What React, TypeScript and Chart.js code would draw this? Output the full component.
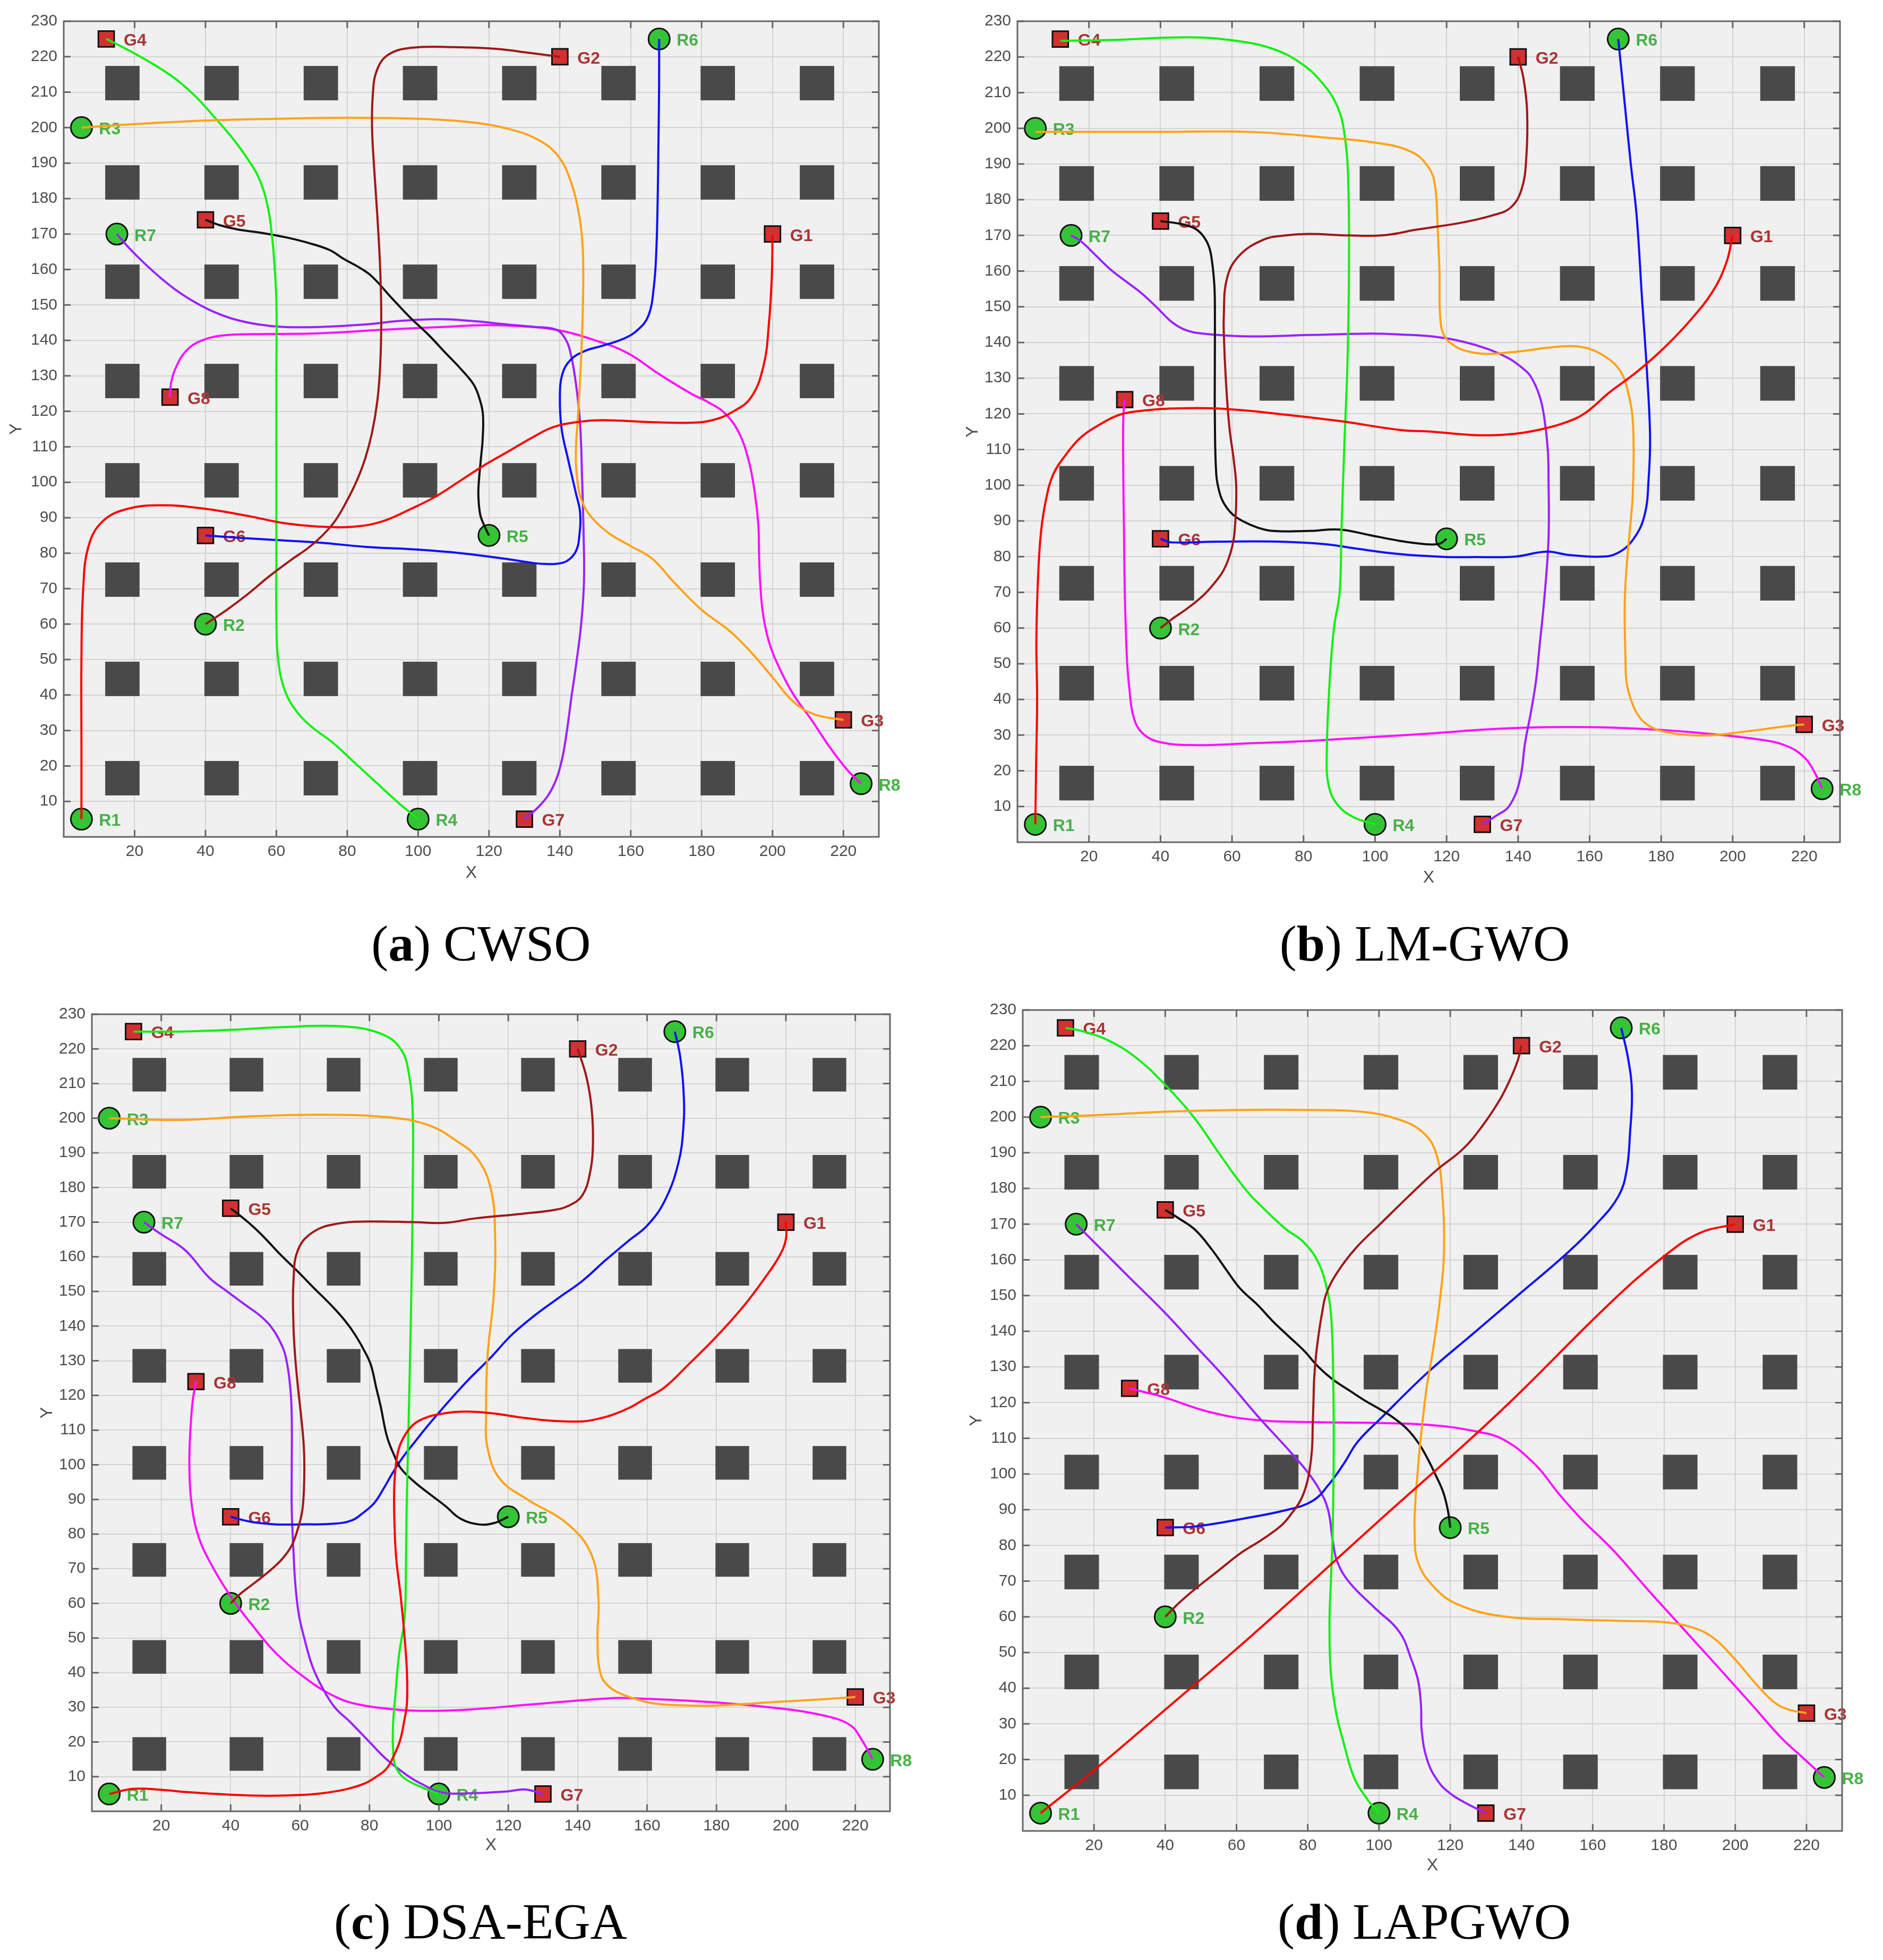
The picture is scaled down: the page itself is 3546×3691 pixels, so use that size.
import React, { useEffect, useRef } from 'react';
import { Chart, registerables } from 'chart.js';

Chart.register(...registerables);

// ---------------- data ----------------
const AXIS_MIN = 0;
const AXIS_MAX = 230;
const X_TICKS = [20, 40, 60, 80, 100, 120, 140, 160, 180, 200, 220];
const Y_TICKS = [10, 20, 30, 40, 50, 60, 70, 80, 90, 100, 110, 120, 130, 140, 150, 160, 170, 180, 190, 200, 210, 220, 230];

const OBSTACLE_STARTS = [11.7, 39.7, 67.7, 95.7, 123.7, 151.7, 179.7, 207.7];
const OBSTACLE_SIZE = 9.7;

const START_LABELS = ['R1', 'R2', 'R3', 'R4', 'R5', 'R6', 'R7', 'R8'];
const GOAL_LABELS = ['G1', 'G2', 'G3', 'G4', 'G5', 'G6', 'G7', 'G8'];
const STARTS: number[][] = [[5, 5], [40, 60], [5, 200], [100, 5], [120, 85], [168, 225], [15, 170], [225, 15]];
const GOALS: number[][] = [[200, 170], [140, 220], [220, 33], [12, 225], [40, 174], [40, 85], [130, 5], [30, 124]];

const PATH_COLORS = ['#ff0000', '#a01818', '#ffa31a', '#12f012', '#111111', '#1010ff', '#9a22ff', '#ff10ff'];

const PANEL_LETTERS = ['a', 'b', 'c', 'd'];
const PANEL_NAMES = ['CWSO', 'LM-GWO', 'DSA-EGA', 'LAPGWO'];

const CWSO_PATHS: number[][][] = [
  [[5,5],[5,25],[5,50],[5.5,70],[7,82],[11,89],[18,92.5],[28,93.5],[40,92.5],[52,90.5],[62,88.5],[72,87.5],[82,87.5],[90,89],[98,92.5],[105,96],[112,100.5],[119,105],[126,109],[132,112.5],[138,115.5],[145,117],[152,117.5],[165,117],[177,116.8],[183,117.5],[189,120],[194,124],[197.5,133],[199,145],[199.8,158],[200,170]],
  [[40,60],[46,64],[52,68.5],[58,73.5],[64,78],[69,81.5],[73,85],[76.5,89],[79.5,94],[82.5,100],[85,106.5],[87,114],[88.5,123],[89.3,133],[89.6,146],[89.3,160],[88.5,175],[87.5,190],[87,200],[87.2,209],[88.3,216],[91.5,220.5],[98,222.5],[110,222.7],[122,222.2],[132,221],[140,220]],
  [[5,200],[20,201],[40,202],[60,202.5],[80,202.8],[100,202.5],[115,201.5],[126,199.5],[134,196.5],[139.5,192],[143,185],[145.5,175],[146.5,165],[146.5,150],[146,135],[145.2,120],[144.5,108],[145,100],[146.5,94],[149.5,89.5],[154,85.5],[160,82],[166,78.5],[172,72],[180,64],[188,58],[194,52],[200,45],[206,38],[212,34.5],[220,33]],
  [[100,5],[94,10],[88,15.5],[82,21],[76,26.5],[70,31],[66,35],[62.5,41],[60.5,50],[60,62],[60,80],[60,100],[60,130],[60,151],[59.2,165],[58.7,170],[57.9,176],[56.5,182],[54.5,187],[52,191],[49.2,195],[46,199],[42.5,203],[37.5,208.5],[32.5,213],[27.5,216.5],[22.5,219.5],[17,222.5],[12,225]],
  [[120,85],[118.8,87.5],[117.5,91],[117,96.5],[117.2,101],[117.7,106.5],[118.2,112],[118.3,119],[117.5,123],[115.7,127.5],[112,132],[107.7,136.5],[103,141.5],[97.7,146.5],[92.5,152],[87,158],[83.5,160.5],[79,163],[75,165.5],[69,167.5],[63,169],[56,170.3],[49,171.3],[44,172.5],[40,174]],
  [[168,225],[168,212],[167.8,195],[167.6,180],[167.2,165],[166.5,155],[165,147],[162,143],[158,140.5],[152,138.5],[147,137],[143,134.5],[140.7,130.5],[140,124],[140.5,115],[142.3,106.5],[144.5,97],[145.7,91.5],[145.5,85],[144.5,80.5],[142,77.8],[139,77],[135,77],[132,77.3],[124,78.5],[112,80],[100,81],[85,81.8],[72,83],[60,83.7],[50,84.3],[40,85]],
  [[15,170],[18.5,166],[22.5,162],[27.5,157.5],[32.5,153.6],[37.5,150.5],[42.5,148],[48,146],[55,144.5],[62,143.8],[72,143.8],[85,144.5],[95,145.5],[105.7,146],[115,145.5],[125,144.5],[133,143.8],[139,143],[141.5,140.5],[143,136.5],[144.5,128],[145.7,116.5],[146.3,100],[146.7,85],[146.8,72],[146,60],[144.5,48],[143.2,39],[142,30],[140.4,21],[138,14],[134.5,9],[130,5]],
  [[225,15],[221,19],[216,25.5],[211,33],[206,40],[202,47.5],[199,55],[197.3,63],[196.5,72],[196.2,80],[196,88],[195,97],[193.3,106],[190.5,114],[186.5,119.5],[182,122.5],[177,125],[168,130.5],[159,136.5],[150,140],[139,143],[129,144],[119,144.3],[105,143.7],[90,143],[72,142],[58,141.8],[46,141.5],[39,140],[34.5,137],[31.5,132],[30.3,128],[30,124]],
];

const LMGWO_PATHS: number[][][] = [
  [[5,5],[5.2,20],[5.5,40],[5.3,57],[5.8,75],[6.6,87],[8,96],[10,103],[13.5,108.5],[17.7,113.4],[23,117],[28.7,119.8],[36,121],[43,121.5],[56,121.5],[73,120],[90,118],[107,115.5],[116,115],[124,114.3],[131,114],[139,114.4],[146.6,115.7],[153,117.5],[158.7,120.2],[165.5,126],[173,131.6],[180.7,138.4],[188.3,146.4],[194.4,154.3],[198.2,162.3],[200,170]],
  [[40,60],[43.2,62.5],[47.5,65.5],[51.8,69],[55,72.5],[57.7,76.3],[59.7,81.5],[60.7,86.8],[61.2,99],[60.5,107],[59.4,115],[58.7,123],[58.2,131],[57.8,140],[57.7,147.4],[58.6,158],[62,164.3],[68.8,168.8],[75,170],[81.6,170.4],[92.7,170],[102.9,170.1],[111.5,171.6],[124.3,173.6],[132.8,175.6],[137.9,177.8],[141,183],[142.3,192],[142.5,205],[141.5,214],[140,220]],
  [[5,199],[20,199],[40,199],[65,199],[85,197.5],[100,196],[110,193.5],[115,189],[116.8,183.7],[117.5,172],[118,160],[118.2,147.4],[119.3,142],[122.3,139],[126,137.5],[131,136.8],[138.6,137.3],[142.8,137.8],[148,138.5],[154.2,139],[159,138.5],[163.3,136.7],[167,134],[169.4,130.5],[171,125],[172,119],[172.3,108],[172,96.4],[171.3,88],[170.5,79.3],[169.9,70],[169.8,62.3],[170,52],[170.3,45],[171.5,40],[173.3,36],[176,33],[180.7,31],[192,29.9],[203.5,31],[215,32.5],[220,33]],
  [[100,5],[94,7],[89.5,10.5],[87,16],[86.5,25],[87.3,45],[88.5,60],[90.1,70],[90.6,87],[91.4,111],[92.3,135],[92.7,160],[92.5,185],[91.5,198],[89.5,206],[85,213],[79,218.4],[71.3,222.3],[61.3,224.5],[48,225.5],[28,224.8],[12,224.5]],
  [[120,85],[118,83.6],[114,83.5],[107,84.4],[98.7,86],[90,87.6],[81.6,87.2],[71.4,87.2],[67,88.2],[62.9,90],[60,92],[57.7,95],[56.5,98],[55.6,103],[55.2,119],[55.2,135],[55.2,151.4],[55,157],[54.3,163.5],[53.5,167],[51.8,170],[49.5,172],[45.8,173.2],[40,174]],
  [[168,225],[169,215],[170,205],[171.5,190],[173.1,176],[174.6,153],[176.1,130.5],[176.9,113.4],[176.5,102],[175.4,91.8],[172.3,85],[167.8,81],[163,80],[154,80.5],[148,81.4],[139,80],[128,79.9],[120,79.9],[107,80.7],[94.4,82.3],[86,83.5],[73,84.2],[56,84.2],[43,84],[40,85]],
  [[15,170],[17.7,168.4],[22,164.3],[26.2,160.3],[30.5,157],[34.7,153.8],[39,149.8],[43.2,145.7],[47,143.5],[51.8,142.5],[64.6,141.7],[81.6,142.1],[98.7,142.5],[108,142.2],[116,141.7],[124.3,140.3],[132,138],[137.5,135.5],[141,133],[143.5,130.5],[146,125],[147.3,119],[148.3,110],[148.5,102],[148.5,85],[147.3,68],[146,55],[145,45.2],[143.5,36],[142,28.2],[140.4,17],[137.4,10],[134,7.5],[130,5]],
  [[225,15],[223.2,19],[220.2,23.6],[215,27],[207.3,28.8],[192,30.5],[177,31.6],[162,32.2],[146.6,32.2],[131.4,31.6],[116,30.5],[100,29.5],[80,28.3],[65,27.7],[50,27.2],[40,28],[35,30.5],[32.5,35],[31.3,43],[30.7,50],[30.4,57],[30,70.6],[29.8,87],[29.6,103],[29.6,119],[30,124]],
];

const DSAEGA_PATHS: number[][][] = [
  [[5,5],[12,6.5],[20,6.2],[28,5.5],[40,4.8],[50.6,4.5],[60,4.7],[66.4,5.2],[73,6.3],[78.3,7.9],[82,10],[84.9,12.3],[87,16],[88.8,20.4],[90,26],[90.8,31.3],[90.8,40],[90.1,50.4],[89,62],[87.8,72],[87.3,80],[87.1,91.6],[87.5,99],[88.5,104.8],[90.5,109],[92.9,111.8],[96,113.5],[99,114.4],[106,115.3],[115,114.9],[124,113.6],[132.5,112.7],[141.3,112.5],[146,113.3],[150,114.4],[155,116.5],[159,118.8],[165,122.3],[172,129],[180,137],[188,146],[194,154],[198,160],[200,165],[200,170]],
  [[40,60],[42.6,62.6],[47,66],[51.5,69.6],[55,73],[57.6,76.7],[59.5,82],[60.7,87.2],[61.2,96],[61.1,104.8],[60.3,114],[59.4,122.3],[58.6,131],[58.1,140],[58.1,153],[59.4,162],[63.8,167.2],[70.8,169.6],[79.6,170.2],[92.8,170],[101.7,169.8],[110.5,171.1],[123.7,172.4],[133,173.5],[137.5,174.8],[141.3,177.7],[143.5,184],[144.4,192.6],[144,203],[142.5,212],[140,220]],
  [[5,200],[25,199.5],[45,200.5],[65,201],[85,200.3],[97,198],[105,193.5],[111,188.5],[115,179.5],[116.2,166],[115.8,149],[114,131],[113.6,114],[114,105],[117.5,96],[125.5,90],[137,83],[144,74],[146,61],[145.7,50],[146.5,40],[149,36],[153.5,33.5],[160,31.5],[165,30.8],[178.5,30.5],[198,31.6],[210,32.3],[220,33]],
  [[100,5],[95.4,6.8],[90.1,9.5],[87.5,13],[86.8,17.7],[86.8,25],[87.5,34],[88.5,45],[90.1,55.8],[90.5,70],[90.7,87],[91.5,122],[92.2,157.5],[92.5,184],[92.5,200],[91.5,212],[89,220],[83,224.5],[72,226.5],[55,226.3],[40,225.5],[25,225],[12,225]],
  [[120,85],[116,83.2],[111.4,82.8],[106,84.6],[102,88],[97.3,91.6],[93,95],[89,99],[87,103],[85,108.3],[83.2,117],[82,122],[80.5,128.5],[79,132],[76,137.3],[73,141.5],[69,146],[64,151],[59.4,155.7],[54,161],[49,166.3],[45,170],[40,174]],
  [[168,225],[169.5,218],[170.5,208],[170.5,198],[169,187],[165,176],[160,169],[154.5,164.5],[148,159],[141.3,153],[135,148.5],[128,143.4],[121,137.5],[115,131],[108,124],[101.7,117],[97,111.5],[93,106.5],[89.5,102],[86.7,97.7],[84,93],[81.4,89],[78,86],[75,84],[70,83],[60,82.8],[53,82.8],[46,83.5],[40,85]],
  [[15,170],[20,166.5],[26.8,162],[33.8,154],[39,150],[44.4,146],[48.5,143],[51.5,140],[54,136],[55.9,131],[57.2,122],[57.6,113.6],[57.6,100],[57.6,87],[58.1,75],[58.6,66],[59.6,57],[61.1,50.4],[63.5,42],[66.4,35.7],[70,30],[74.3,25.9],[80,20],[84.9,15],[90,11],[94.1,8.4],[100.7,5.5],[108.6,5.2],[119.2,5.7],[125,6.3],[130,5]],
  [[225,15],[223.4,18],[221,22],[219.4,24.2],[216,26.2],[211.5,27.5],[205,28.8],[198.3,29.7],[185,31],[172,31.9],[159,32.5],[152,32.7],[142,32.1],[126,30.8],[109,29.4],[97,29],[87.5,29.4],[77,30.8],[70.3,33],[62.4,37.8],[53.2,45.5],[46,54],[40,62],[34,72],[30.5,80],[28.6,90],[28.1,100],[28.3,108],[29,118],[30,124]],
];

const LAPGWO_PATHS: number[][][] = [
  [[5,5],[20,17],[40,34],[64,54.5],[99,86],[134,117.5],[165,148],[180,161],[190,167.5],[200,170]],
  [[40,60],[44,64],[48.4,67.8],[55,73],[61.4,78],[67,81.5],[72.7,85.7],[75.5,89],[77.9,92.5],[79.5,96.5],[80.5,101],[81.2,107],[81.4,113.8],[81.6,120],[81.8,126.6],[82.3,133],[83.1,139.4],[84,145],[85.2,150.5],[88.3,156.5],[93.5,163.3],[100.5,170.2],[108.3,177.8],[116,185],[123.5,191],[129,197.5],[134,205],[137,211],[139,216],[140,220]],
  [[5,200],[20,200.5],[40,201.5],[60,202],[80,202],[95,201.5],[105,199.5],[112,196],[116,190],[117.8,178],[118.2,161],[117,148],[115.2,135],[113.5,125],[112.6,118],[111.5,108],[110.9,101],[110.2,92],[110,84],[110.9,75.4],[115.2,68.6],[122,63.5],[135,60.1],[152.5,59.3],[170,58.8],[180,58.5],[188,57],[194,54],[200,48],[206,41],[211,36],[215,34],[220,33]],
  [[100,5],[97,8.5],[93,15],[90,25],[88,33],[86.5,44],[86.1,58],[86.5,70],[87,84],[87.3,110],[87,135],[86.5,145],[85.7,150.5],[83.1,159],[78.8,165],[74,168.5],[70.1,172],[67,175],[64,178],[60,183],[55,190],[48,200],[40,209],[32,216.5],[24,221.5],[17,224],[12,225]],
  [[120,85],[119.3,90],[118,95],[116,99.5],[113.8,104],[111.2,108.5],[108,112.5],[104,115.8],[100,118.3],[96,120.6],[92,123.2],[87,126.5],[83,130],[79,134.5],[74.4,138.8],[70,143],[66,147.3],[61,152],[57,157.4],[53,163],[48.4,168.4],[44,171.5],[40,174]],
  [[168,225],[170,216],[171,207],[170.5,196],[169.5,185],[167.2,177.8],[161,170],[152.5,161.6],[139.5,150.5],[126.5,139.4],[113.5,128.3],[100.4,115.5],[94,109],[90,102.7],[85.7,96.8],[81.4,92.5],[74.4,90],[61.4,87.4],[48.4,85.3],[40,85]],
  [[15,170],[22,163],[30,155],[39.7,145.4],[48.4,136],[57.1,126.6],[65.8,116.4],[74.4,107],[79.6,101],[83.1,95.9],[85.7,90],[87,81.4],[88.3,75.4],[91.8,69.5],[98.7,62.6],[105.7,55.8],[109.1,48],[111,42],[111.8,35],[112,28],[113.5,20],[116.5,14],[120,10.5],[124,8],[130,5]],
  [[225,15],[219,20.5],[213,26],[205,35],[196,45],[186,56],[176,67],[165.4,79],[156.8,87.4],[150.7,94.2],[143.8,102.7],[135,109.6],[126.5,112.1],[113.5,113.8],[100.4,114.3],[83,114.5],[65.8,115.1],[52.7,117.3],[39.7,121.5],[34,123],[30,124]],
];

const ALL_PATHS = [CWSO_PATHS, LMGWO_PATHS, DSAEGA_PATHS, LAPGWO_PATHS];

// ---------------- layout / style ----------------
const FONT = '"Liberation Sans", Arial, Helvetica, sans-serif';
const SERIF = '"Liberation Serif", "Times New Roman", Times, serif';
const TEXT_GRAY = '#4d4d4d';
const TICK_SIZE = 30;
const TITLE_SIZE = 32;

// plot rectangles (L,T,W,H), axis-title centres, caption centres (page px)
const PANEL_LAYOUT = [
  { L: 120, T: 40, W: 1535, H: 1536, yTitleX: 31, xTitleY: 1644, capX: 906, capY: 1777, CL: 0, CT: 0 },
  { L: 1916, T: 40, W: 1549, H: 1546, yTitleX: 1832, xTitleY: 1653, capX: 2683, capY: 1777, CL: 1796, CT: 0 },
  { L: 173, T: 1910, W: 1503, H: 1501, yTitleX: 89, xTitleY: 3475, capX: 905, capY: 3619, CL: 53, CT: 1870 },
  { L: 1926, T: 1902, W: 1543, H: 1546, yTitleX: 1839, xTitleY: 3513, capX: 2682, capY: 3619, CL: 1806, CT: 1862 },
];

const decorPlugin = {
  id: 'robotDecor',
  beforeDraw(chart: any) {
    const { ctx, chartArea: a } = chart;
    ctx.save();
    ctx.fillStyle = '#f0f0f0';
    ctx.fillRect(a.left, a.top, a.right - a.left, a.bottom - a.top);
    ctx.restore();
  },
  beforeDatasetsDraw(chart: any) {
    const { ctx } = chart;
    const xs = chart.scales.x;
    const ys = chart.scales.y;
    ctx.save();
    ctx.fillStyle = '#494949';
    for (const ox of OBSTACLE_STARTS) {
      for (const oy of OBSTACLE_STARTS) {
        const x0 = xs.getPixelForValue(ox);
        const x1 = xs.getPixelForValue(ox + OBSTACLE_SIZE);
        const y0 = ys.getPixelForValue(oy + OBSTACLE_SIZE);
        const y1 = ys.getPixelForValue(oy);
        ctx.fillRect(x0, y0, x1 - x0, y1 - y0);
      }
    }
    ctx.font = `bold 32px ${FONT}`;
    ctx.textBaseline = 'middle';
    ctx.textAlign = 'left';
    ctx.fillStyle = '#47b047';
    STARTS.forEach((p, i) => {
      ctx.fillText(START_LABELS[i], xs.getPixelForValue(p[0]) + 33, ys.getPixelForValue(p[1]) + 4);
    });
    ctx.fillStyle = '#aa3434';
    GOALS.forEach((p, i) => {
      ctx.fillText(GOAL_LABELS[i], xs.getPixelForValue(p[0]) + 33, ys.getPixelForValue(p[1]) + 4);
    });
    ctx.restore();
  },
  afterDraw(chart: any) {
    const { ctx, chartArea: a } = chart;
    const xs = chart.scales.x;
    const ys = chart.scales.y;
    const tl = 13;
    ctx.save();
    ctx.strokeStyle = '#666666';
    ctx.lineWidth = 3;
    ctx.beginPath();
    for (const v of X_TICKS) {
      const px = xs.getPixelForValue(v);
      ctx.moveTo(px, a.bottom); ctx.lineTo(px, a.bottom - tl);
      ctx.moveTo(px, a.top); ctx.lineTo(px, a.top + tl);
    }
    for (const v of Y_TICKS) {
      const py = ys.getPixelForValue(v);
      ctx.moveTo(a.left, py); ctx.lineTo(a.left + tl, py);
      ctx.moveTo(a.right, py); ctx.lineTo(a.right - tl, py);
    }
    ctx.stroke();
    ctx.strokeRect(a.left, a.top, a.right - a.left, a.bottom - a.top);
    ctx.restore();
  },
};

function buildConfig(idx: number) {
  const lay = PANEL_LAYOUT[idx];
  const titleOffset = (TITLE_SIZE * 1.2) / 2;
  const yBoxW = lay.L - lay.yTitleX + titleOffset;
  const xBoxH = lay.xTitleY - (lay.T + lay.H) + titleOffset;
  const paths = ALL_PATHS[idx];

  const lineSets = paths.map((path, i) => ({
    label: START_LABELS[i] + '-' + GOAL_LABELS[i],
    data: path.map((p) => ({ x: p[0], y: p[1] })),
    showLine: true,
    borderColor: PATH_COLORS[i],
    backgroundColor: PATH_COLORS[i],
    borderWidth: 4,
    pointRadius: 0,
    pointHoverRadius: 0,
    tension: 0.4,
    fill: false,
    order: 0,
  }));

  const startSet = {
    label: 'starts',
    data: STARTS.map((p) => ({ x: p[0], y: p[1] })),
    showLine: false,
    pointStyle: 'circle',
    pointRadius: 20,
    pointBackgroundColor: '#35c435',
    pointBorderColor: '#111111',
    pointBorderWidth: 3,
    order: 1,
    clip: false,
  };
  const goalSet = {
    label: 'goals',
    data: GOALS.map((p) => ({ x: p[0], y: p[1] })),
    showLine: false,
    pointStyle: 'rect',
    pointRadius: 21,
    pointBackgroundColor: '#d23131',
    pointBorderColor: '#111111',
    pointBorderWidth: 3,
    order: 1,
    clip: false,
  };

  return {
    type: 'scatter',
    data: { datasets: [...lineSets, startSet, goalSet] },
    plugins: [decorPlugin],
    options: {
      animation: false,
      responsive: false,
      maintainAspectRatio: false,
      devicePixelRatio: 1,
      events: [],
      layout: {
        padding: {
          left: lay.L - lay.CL - yBoxW,
          top: lay.T - lay.CT,
          right: 70,
          bottom: 120 - xBoxH,
        },
      },
      plugins: { legend: { display: false }, tooltip: { enabled: false } },
      scales: {
        x: {
          type: 'linear',
          position: 'bottom',
          min: AXIS_MIN,
          max: AXIS_MAX,
          afterBuildTicks: (s: any) => { s.ticks = X_TICKS.map((v) => ({ value: v })); },
          afterFit: (s: any) => { s.height = xBoxH; },
          ticks: {
            autoSkip: false,
            maxRotation: 0,
            padding: 10,
            color: TEXT_GRAY,
            font: { family: FONT, size: TICK_SIZE },
            callback: (v: any) => String(v),
          },
          grid: { color: '#d3d3d3', lineWidth: 2, drawTicks: false },
          border: { display: false },
          title: { display: true, text: 'X', color: TEXT_GRAY, font: { family: FONT, size: TITLE_SIZE }, padding: 0 },
        },
        y: {
          type: 'linear',
          position: 'left',
          min: AXIS_MIN,
          max: AXIS_MAX,
          afterBuildTicks: (s: any) => { s.ticks = Y_TICKS.map((v) => ({ value: v })); },
          afterFit: (s: any) => { s.width = yBoxW; },
          ticks: {
            autoSkip: false,
            padding: 12,
            color: TEXT_GRAY,
            font: { family: FONT, size: TICK_SIZE },
            callback: (v: any) => String(v),
          },
          grid: { color: '#d3d3d3', lineWidth: 2, drawTicks: false },
          border: { display: false },
          title: { display: true, text: 'Y', color: TEXT_GRAY, font: { family: FONT, size: TITLE_SIZE }, padding: 0 },
        },
      },
    },
  };
}

function Panel({ idx }: { idx: number }) {
  const ref = useRef<HTMLCanvasElement | null>(null);
  const lay = PANEL_LAYOUT[idx];
  const cw = lay.W + (lay.L - lay.CL) + 70;
  const ch = lay.H + (lay.T - lay.CT) + 120;
  useEffect(() => {
    if (!ref.current) return;
    const chart = new Chart(ref.current, buildConfig(idx) as any);
    return () => chart.destroy();
  }, [idx]);
  return (
    <>
      <canvas
        ref={ref}
        width={cw}
        height={ch}
        style={{ position: 'absolute', left: lay.CL, top: lay.CT, width: cw, height: ch, display: 'block' }}
      />
      <div
        style={{
          position: 'absolute',
          left: lay.capX - 600,
          top: lay.capY - 60,
          width: 1200,
          height: 120,
          lineHeight: '120px',
          textAlign: 'center',
          fontFamily: SERIF,
          fontSize: 96,
          color: '#000',
          whiteSpace: 'nowrap',
        }}
      >
        (<b>{PANEL_LETTERS[idx]}</b>) {PANEL_NAMES[idx]}
      </div>
    </>
  );
}

export default function App() {
  return (
    <div style={{ position: 'absolute', left: 0, top: 0, width: 3546, height: 3691, background: '#ffffff', overflow: 'hidden' }}>
      {[0, 1, 2, 3].map((i) => (
        <Panel key={i} idx={i} />
      ))}
    </div>
  );
}
